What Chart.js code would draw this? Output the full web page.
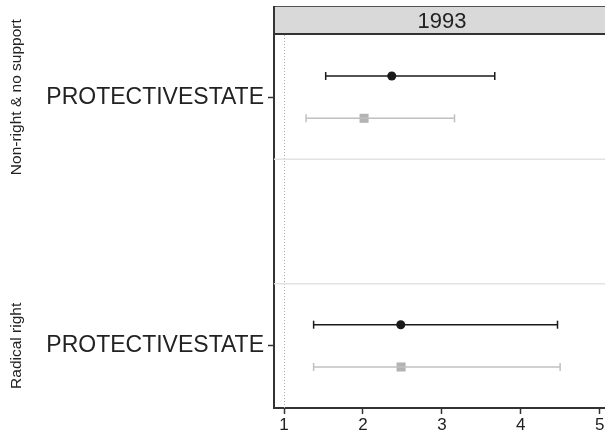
<!DOCTYPE html>
<html>
<head>
<script src="https://cdn.jsdelivr.net/npm/chart.js"></script>
<style>
  body { margin: 0; background: #fff; }
  #wrap { width: 605px; height: 435px; overflow: hidden; }
</style>
</head>
<body>
<div id="wrap"><canvas id="c" width="620" height="435"></canvas></div>
<script>
// groups (panels stacked top to bottom) and the variable shown in each
const groups = ['Non-right & no support', 'Radical right'];
const variable = 'PROTECTIVESTATE';
const yearLabel = '1993';
const xTicks = [1, 2, 3, 4, 5];

// series 1 (black circles) and series 2 (grey squares): estimate, lower, upper
const blackEst = [2.365, 2.479];
const blackLo  = [1.528, 1.375];
const blackHi  = [3.670, 4.465];
const greyEst  = [2.014, 2.483];
const greyLo   = [1.279, 1.375];
const greyHi   = [3.160, 4.498];

// y positions of the groups on the value axis
const groupPos = [1, 5];
const sep = [2, 4];
const off = 0.34;

const BLACK = '#1a1a1a', GREY = '#b3b3b3', FONT = "'Liberation Sans', Arial, sans-serif";

const datasets = [];
groups.forEach((g, i) => {
  const yb = groupPos[i] - off, yg = groupPos[i] + off;
  datasets.push({
    data: [{ x: blackLo[i], y: yb }, { x: blackHi[i], y: yb }],
    showLine: true, borderColor: BLACK, borderWidth: 1.5,
    pointStyle: 'line', rotation: 90, pointRadius: 4, pointBorderColor: BLACK, pointBorderWidth: 1.5
  });
  datasets.push({
    data: [{ x: greyLo[i], y: yg }, { x: greyHi[i], y: yg }],
    showLine: true, borderColor: '#c0c0c0', borderWidth: 1.5,
    pointStyle: 'line', rotation: 90, pointRadius: 4, pointBorderColor: '#c0c0c0', pointBorderWidth: 1.5
  });
  datasets.push({
    data: [{ x: blackEst[i], y: yb }],
    pointStyle: 'circle', pointRadius: 4.5, backgroundColor: BLACK, borderColor: BLACK, borderWidth: 0
  });
  datasets.push({
    data: [{ x: greyEst[i], y: yg }],
    pointStyle: 'rect', pointRadius: 6.4, backgroundColor: GREY, borderColor: GREY, borderWidth: 0
  });
});

const extras = {
  id: 'extras',
  beforeDatasetsDraw(chart) {
    const { ctx, chartArea: a, scales: { x, y } } = chart;
    ctx.save();
    // dotted reference line at x = 1
    ctx.strokeStyle = '#aaaaaa';
    ctx.lineWidth = 1;
    ctx.setLineDash([1, 2]);
    const px = Math.round(x.getPixelForValue(1)) + 0.5;
    ctx.beginPath(); ctx.moveTo(px, a.top); ctx.lineTo(px, a.bottom); ctx.stroke();
    ctx.setLineDash([]);
    // separators between groups
    ctx.strokeStyle = '#e3e3e3';
    ctx.lineWidth = 1.5;
    sep.forEach(v => {
      const py = y.getPixelForValue(v);
      ctx.beginPath(); ctx.moveTo(a.left, py); ctx.lineTo(a.right + 20, py); ctx.stroke();
    });
    ctx.restore();
  },
  afterDraw(chart) {
    const { ctx, chartArea: a, scales: { y } } = chart;
    ctx.save();
    // header strip
    ctx.fillStyle = '#d9d9d9';
    ctx.fillRect(a.left, 6, chart.width - a.left, a.top - 6);
    ctx.strokeStyle = '#555';
    ctx.lineWidth = 1;
    ctx.beginPath(); ctx.moveTo(a.left, 6.5); ctx.lineTo(chart.width, 6.5); ctx.stroke();
    ctx.strokeStyle = '#333';
    ctx.lineWidth = 2;
    ctx.beginPath(); ctx.moveTo(a.left, a.top - 1); ctx.lineTo(chart.width, a.top - 1); ctx.stroke();
    ctx.beginPath(); ctx.moveTo(a.left, 6); ctx.lineTo(a.left, a.top); ctx.stroke();
    ctx.fillStyle = '#222';
    ctx.font = '22px ' + FONT;
    ctx.textAlign = 'center';
    ctx.textBaseline = 'middle';
    ctx.fillText(yearLabel, (a.left + a.right) / 2, (6 + a.top) / 2 + 1);
    // rotated group labels
    ctx.font = '15.5px ' + FONT;
    groups.forEach((g, i) => {
      ctx.save();
      ctx.translate(17, y.getPixelForValue(groupPos[i]));
      ctx.rotate(-Math.PI / 2);
      ctx.fillText(g, 0, 0);
      ctx.restore();
    });
    ctx.restore();
  }
};

new Chart(document.getElementById('c'), {
  type: 'scatter',
  data: { datasets },
  plugins: [extras],
  options: {
    responsive: false,
    animation: false,
    layout: { padding: { top: 35, right: 10, left: 0, bottom: 0 } },
    plugins: { legend: { display: false }, tooltip: { enabled: false } },
    scales: {
      x: {
        type: 'linear', min: 0.873, max: 5.13,
        afterBuildTicks: s => { s.ticks = xTicks.map(v => ({ value: v })); },
        afterFit: s => { s.height = 27; },
        ticks: { color: '#222', font: { size: 17, family: FONT }, padding: 1, maxRotation: 0 },
        grid: { display: true, drawOnChartArea: false, drawTicks: true, tickLength: 6, tickColor: '#333', tickWidth: 1.5 },
        border: { display: true, color: '#333', width: 2 }
      },
      y: {
        type: 'linear', min: 0, max: 6, reverse: true,
        afterBuildTicks: s => { s.ticks = groupPos.map(v => ({ value: v })); },
        afterFit: s => { s.width = 274; },
        ticks: { color: '#222', font: { size: 23, family: FONT }, padding: 4, callback: () => variable },
        grid: { display: true, drawOnChartArea: false, drawTicks: true, tickLength: 6, tickColor: '#333', tickWidth: 1.5 },
        border: { display: true, color: '#333', width: 2 }
      }
    }
  }
});
</script>
</body>
</html>
